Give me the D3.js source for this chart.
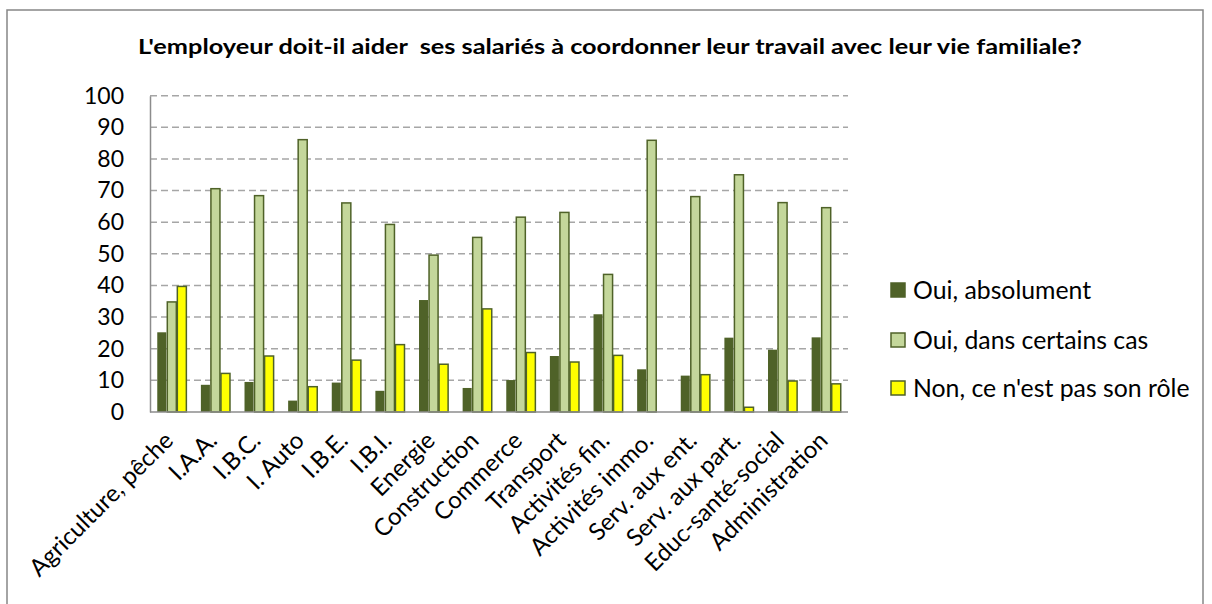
<!DOCTYPE html>
<html><head><meta charset="utf-8">
<script src="https://cdn.jsdelivr.net/npm/d3@7"></script>
<style>body{margin:0;background:#fff}svg{display:block}text{font-family:Lato,"Open Sans",sans-serif}</style>
</head><body>
<svg id="c" width="1212" height="604"></svg>
<script>
const title = "L'employeur doit-il aider  ses salariés à coordonner leur travail avec leur vie familiale?";
const categories = ["Agriculture, pêche","I.A.A.","I.B.C.","I. Auto","I.B.E.","I.B.I.","Energie","Construction","Commerce","Transport","Activités fin.","Activités immo.","Serv. aux ent.","Serv. aux part.","Educ-santé-social","Administration"];
const seriesNames = ["Oui, absolument","Oui, dans certains cas","Non, ce n'est pas son rôle"];
const ouiAbsolument = [25.2,8.6,9.5,3.6,9.3,6.7,35.4,7.6,10.1,17.7,30.9,13.5,11.5,23.5,19.7,23.6];
const ouiCertainsCas = [34.8,70.6,68.4,86.1,66.1,59.3,49.6,55.2,61.6,63.1,43.5,85.9,68.1,75.0,66.2,64.6];
const nonPasSonRole = [39.7,12.2,17.7,8.0,16.4,21.3,15.1,32.6,18.8,15.8,17.9,0,11.8,1.5,9.8,8.9];
const yTicks = [0,10,20,30,40,50,60,70,80,90,100];
const colors = ["#4F6228","#C4D79B","#FFFF00"];
const strokes = ["#4F6228","#4F6228","#4F6228"];

const svg = d3.select("#c");
const L = 150, R = 848, T = 95.7, B = 412;

svg.append("rect").attr("x",7).attr("y",10).attr("width",1196).attr("height",620)
  .attr("fill","#fff").attr("stroke","#868686").attr("stroke-width",1.5);

svg.append("text").attr("x",610).attr("y",54).attr("text-anchor","middle")
  .attr("font-size",20.5).attr("font-weight","bold").attr("fill","#000")
  .attr("textLength",944).attr("lengthAdjust","spacingAndGlyphs")
  .style("white-space","pre").text(title);

const y = d3.scaleLinear().domain([0,100]).range([B,T]);
const x0 = d3.scaleBand().domain(categories).range([L,R]).padding(0);
const gap = x0.bandwidth()*0.155;
const x1 = d3.scaleBand().domain(seriesNames).range([gap, x0.bandwidth()-gap]).padding(0);

// gridlines
svg.append("g").selectAll("line").data(yTicks.filter(d=>d>0)).join("line")
  .attr("x1",L).attr("x2",R).attr("y1",d=>y(d)).attr("y2",d=>y(d))
  .attr("stroke","#A6A6A6").attr("stroke-width",1.5).attr("stroke-dasharray","7,4");

// y axis
const ya = svg.append("g").attr("transform",`translate(${L},0)`)
  .call(d3.axisLeft(y).tickValues(yTicks).tickSize(0).tickPadding(26));
ya.select(".domain").attr("stroke","#8C8C8C").attr("stroke-width",1.5);
ya.selectAll("text").attr("font-size",23).attr("fill","#000").attr("font-family","Lato");

// bars
const data = [ouiAbsolument, ouiCertainsCas, nonPasSonRole];
categories.forEach((c,i)=>{
  seriesNames.forEach((s,j)=>{
    const v = data[j][i];
    if (v <= 0) return;
    svg.append("rect")
      .attr("x", x0(c)+x1(s)+0.5).attr("y", y(v))
      .attr("width", x1.bandwidth()-1).attr("height", B - y(v))
      .attr("fill", colors[j]).attr("stroke", strokes[j]).attr("stroke-width", j===0?0:1.5);
  });
});

// x axis line
svg.append("line").attr("x1",L).attr("x2",R).attr("y1",B).attr("y2",B)
  .attr("stroke","#8C8C8C").attr("stroke-width",1.5);

// x labels
const xa = svg.append("g").attr("transform",`translate(0,${B})`)
  .call(d3.axisBottom(x0).tickSize(0).tickPadding(0));
xa.select(".domain").remove();
xa.selectAll(".tick text").attr("font-size",24).attr("fill","#000").attr("font-family","Lato")
  .attr("text-anchor","end").attr("dy",0).attr("y",0)
  .attr("transform","translate(3,30) rotate(-45)");

// legend
const lg = svg.append("g");
const ly = [290,340,388];
seriesNames.forEach((s,j)=>{
  lg.append("rect").attr("x",891).attr("y",ly[j]-7).attr("width",14).attr("height",14)
    .attr("fill",colors[j]).attr("stroke",strokes[j]).attr("stroke-width",1.5);
  lg.append("text").attr("x",913).attr("y",ly[j]).attr("dy","0.36em")
    .attr("font-size",24.8).attr("fill","#000").text(s);
});
</script>
</body></html>
